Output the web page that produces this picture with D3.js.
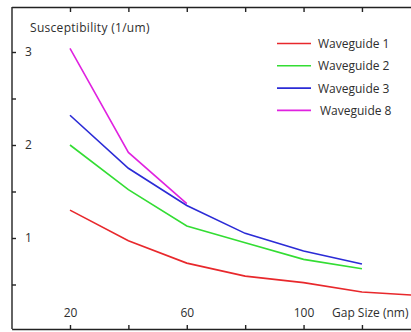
<!DOCTYPE html>
<html>
<head>
<meta charset="utf-8">
<script src="https://cdn.jsdelivr.net/npm/d3@7"></script>
<style>
  body { margin: 0; background: #fff; }
  text { font-family: "Open Sans", sans-serif; fill: #2e2e2e; }
</style>
</head>
<body>
<div id="chart"></div>
<script>
// gap size (nm)
const gaps = [20, 40, 60, 80, 100, 120, 140];
const wg1 = [1.30, 0.97, 0.73, 0.59, 0.52, 0.42, 0.38];
const wg2 = [2.00, 1.52, 1.13, 0.95, 0.77, 0.67];
const wg3 = [2.32, 1.75, 1.35, 1.05, 0.86, 0.72];
const wg8 = [3.04, 1.92, 1.37];
const names = ["Waveguide 1", "Waveguide 2", "Waveguide 3", "Waveguide 8"];
const colors = ["#e8282c", "#33dd33", "#2b2bd6", "#e022e0"];
const xTicks = [20, 40, 60, 80, 100, 120];
const xTickLabels = [20, 60, 100];
const yTicks = [0.5, 1, 1.5, 2, 2.5, 3];
const yTickLabels = [1, 2, 3];

const width = 411, height = 332;
const svg = d3.select("#chart").append("svg")
  .attr("width", width).attr("height", height);

const x = d3.scaleLinear().domain([0, 136.8]).range([11.6, 411]);
const y = d3.scaleLinear().domain([0, 3.5]).range([331, 5.5]);
const plotTop = 7, plotBottom = 329, plotLeft = 12;

svg.append("clipPath").attr("id", "clip")
  .append("rect").attr("x", plotLeft).attr("y", plotTop)
  .attr("width", width - plotLeft).attr("height", plotBottom - plotTop);

const line = d3.line().x(d => x(d[0])).y(d => y(d[1]));
const series = [wg1, wg2, wg3, wg8];
svg.append("g").attr("clip-path", "url(#clip)")
  .selectAll("path")
  .data(series)
  .enter().append("path")
    .attr("d", s => line(s.map((v, i) => [gaps[i], v])))
    .attr("fill", "none")
    .attr("stroke", (s, i) => colors[i])
    .attr("stroke-width", 1.6);

// axes, ticks pointing inward
const topAxis = d3.axisBottom(x).tickValues(xTicks).tickSizeInner(5).tickSizeOuter(0).tickFormat("");
const botAxis = d3.axisTop(x).tickValues(xTicks).tickSizeInner(4).tickSizeOuter(0).tickPadding(8)
  .tickFormat(d => xTickLabels.includes(d) ? d : "");
const leftAxis = d3.axisRight(y).tickValues(yTicks).tickSizeInner(4).tickSizeOuter(0).tickPadding(9)
  .tickFormat(d => yTickLabels.includes(d) ? d : "");

function styleAxis(g) {
  g.select(".domain").attr("stroke", "#222").attr("stroke-width", 1.4);
  g.selectAll(".tick line").attr("stroke", "#222").attr("stroke-width", 1.4);
  g.selectAll(".tick text").attr("font-size", 12)
    .attr("font-family", "Open Sans, sans-serif").attr("fill", "#2e2e2e");
}

svg.append("g").attr("transform", `translate(0,${plotTop})`).call(topAxis).call(styleAxis);
svg.append("g").attr("transform", `translate(0,${plotBottom})`).call(botAxis).call(styleAxis);
svg.append("g").attr("transform", `translate(${plotLeft},0)`).call(leftAxis).call(styleAxis)
  .select(".domain").attr("d", `M0,${plotTop}V${plotBottom}`);

svg.append("text").attr("x", 30).attr("y", 32).attr("font-size", 12).attr("letter-spacing", 0.3)
  .text("Susceptibility (1/um)");
svg.append("text").attr("x", 332).attr("y", 317).attr("font-size", 12)
  .text("Gap Size (nm)");

// legend
const leg = svg.append("g");
names.forEach((n, i) => {
  const yy = 43.5 + i * 22.3;
  leg.append("line").attr("x1", 277).attr("x2", 311).attr("y1", yy).attr("y2", yy)
    .attr("stroke", colors[i]).attr("stroke-width", 1.6);
  leg.append("text").attr("x", i === 3 ? 320 : 318).attr("y", yy + 4.5).attr("font-size", 12)
    .text(n);
});
</script>
</body>
</html>
